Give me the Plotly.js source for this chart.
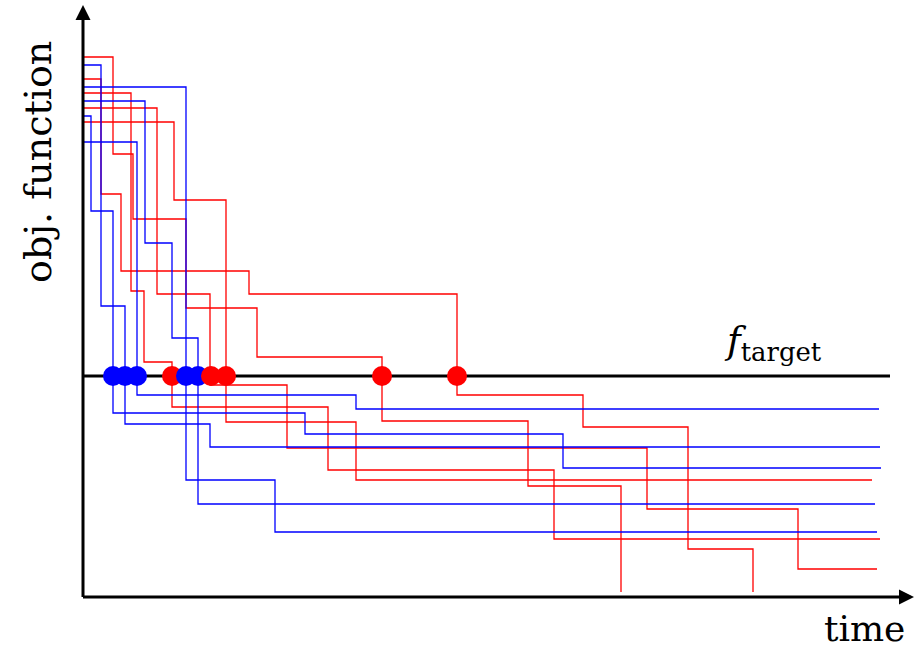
<!DOCTYPE html>
<html>
<head>
<meta charset="utf-8">
<script src="https://cdn.plot.ly/plotly-3.0.1.min.js"></script>
<style>html,body{margin:0;padding:0;background:#fff;}#chart{width:915px;height:650px;}</style>
</head>
<body>
<div id="chart"></div>
<script>
// Step-wise objective traces (time of improvement, objective value after it)
const redTimes = [
  [0, 30, 50, 103, 174, 299, 445, 538],
  [0, 18, 38, 166, 374, 500, 605, 670],
  [0, 48, 61, 89, 245, 471, 797],
  [0, 74, 127, 204, 564, 715, 794],
  [0, 91, 143, 273, 789]
];
const redValues = [
  [540, 443, 378, 289, 240, 176, 111, 5],
  [518, 403, 326, 303, 202, 170, 48, 5],
  [504, 306, 235, 190, 127, 58, 58],
  [489, 303, 212, 149, 88, 28, 28],
  [475, 397, 175, 117, 117]
];
const blueTimes = [
  [0, 18, 42, 127, 797],
  [0, 103, 192, 794],
  [0, 62, 89, 115, 792],
  [0, 8, 30, 222, 480, 798],
  [0, 54, 273, 796]
];
const blueValues = [
  [532, 291, 173, 150, 150],
  [510, 117, 65, 65],
  [496, 354, 259, 93, 93],
  [481, 386, 184, 163, 129, 129],
  [455, 202, 188, 188]
];
// Times at which each run reaches the target
const redHits = [89, 128, 143, 299, 374];
const blueHits = [30, 42, 54, 103, 115];
const target = 221;
const targetEnd = 807;
const xMax = 832;
const yMax = 592;

const RED = '#ff0000', BLUE = '#0000ff';
const traces = [];
function addRuns(times, values, color) {
  for (let i = 0; i < times.length; i++) {
    traces.push({x: times[i], y: values[i], mode: 'lines', type: 'scatter',
      line: {shape: 'hv', color: color, width: 1.3}, hoverinfo: 'skip', showlegend: false});
  }
}
addRuns(redTimes, redValues, RED);
addRuns(blueTimes, blueValues, BLUE);

traces.push({x: [0, targetEnd], y: [target, target], mode: 'lines', type: 'scatter',
  line: {color: '#000', width: 3}, showlegend: false, hoverinfo: 'skip'});

const hits = redHits.map(t => ({t, c: RED})).concat(blueHits.map(t => ({t, c: BLUE})))
  .sort((a, b) => a.t - b.t);
traces.push({x: hits.map(h => h.t), y: hits.map(() => target), mode: 'markers', type: 'scatter',
  marker: {size: 20, color: hits.map(h => h.c), line: {width: 0}}, showlegend: false, hoverinfo: 'skip', cliponaxis: false});

const serif = 'DejaVu Serif, Liberation Serif, serif';
const layout = {
  width: 915, height: 650,
  margin: {l: 83, r: 0, t: 5, b: 53, pad: 0},
  paper_bgcolor: '#fff', plot_bgcolor: '#fff',
  showlegend: false,
  xaxis: {range: [0, xMax], showgrid: false, zeroline: false, showticklabels: false, showline: false, ticks: '', fixedrange: true},
  yaxis: {range: [0, yMax], showgrid: false, zeroline: false, showticklabels: false, showline: false, ticks: '', fixedrange: true},
  annotations: [
    {x: xMax - 1, y: 0, ax: -1.5, ay: 0, xref: 'x', yref: 'y', axref: 'x', ayref: 'y',
     text: '', showarrow: true, arrowhead: 2, arrowsize: 1, arrowwidth: 3, arrowcolor: '#000'},
    {x: 0, y: yMax, ax: 0, ay: -1.5, xref: 'x', yref: 'y', axref: 'x', ayref: 'y',
     text: '', showarrow: true, arrowhead: 2, arrowsize: 1, arrowwidth: 3, arrowcolor: '#000'},
    {x: 639, y: 254, xref: 'x', yref: 'y', xanchor: 'left', yanchor: 'middle', showarrow: false,
     text: '<i>f</i><sub>target</sub>', font: {family: serif, size: 37, color: '#000'}},
    {x: -0.054, y: 0.735, xref: 'paper', yref: 'paper', xanchor: 'center', yanchor: 'middle', showarrow: false,
     textangle: -90, text: 'obj. function', font: {family: serif, size: 38, color: '#000'}},
    {x: 0.939, y: -0.0895, xref: 'paper', yref: 'paper', xanchor: 'center', yanchor: 'bottom', showarrow: false,
     borderpad: 0, text: 'time', font: {family: serif, size: 36, color: '#000'}}
  ]
};
Plotly.newPlot('chart', traces, layout, {staticPlot: true, displayModeBar: false});
</script>
</body>
</html>
